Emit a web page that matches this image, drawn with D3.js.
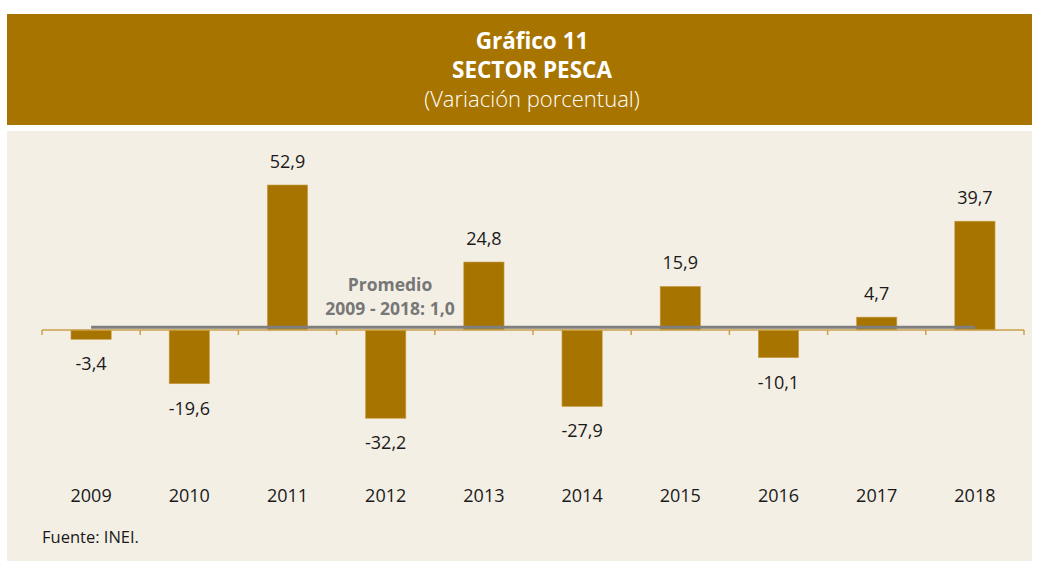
<!DOCTYPE html>
<html>
<head>
    <meta charset="utf-8">
    <title>Sector Pesca</title>
    <script src="https://cdn.jsdelivr.net/npm/d3@7"></script>
    <style>
        body { margin: 0; background: #ffffff; }
        svg { display: block; font-family: "Open Sans", "Noto Sans", sans-serif; }
    </style>
</head>
<body>
    <div id="chart"></div>
    <script>
        // Datos del gráfico
        const years = ["2009", "2010", "2011", "2012", "2013", "2014", "2015", "2016", "2017", "2018"];
        const values = [-3.4, -19.6, 52.9, -32.2, 24.8, -27.9, 15.9, -10.1, 4.7, 39.7];
        const average = 1.0;
        const titleLines = ["Gráfico 11", "SECTOR PESCA", "(Variación porcentual)"];
        const avgLabel = ["Promedio", "2009 - 2018: 1,0"];
        const source = "Fuente: INEI.";

        const W = 1046, H = 561;
        const gold = "#a87400";
        const fmt = v => v.toFixed(1).replace(".", ",");

        const svg = d3.select("#chart").append("svg")
            .attr("width", W)
            .attr("height", H);

        // Encabezado
        svg.append("rect")
            .attr("x", 7).attr("y", 14)
            .attr("width", 1025).attr("height", 111)
            .attr("fill", gold);

        svg.append("rect")
            .attr("x", 7).attr("y", 131)
            .attr("width", 1025).attr("height", H - 131)
            .attr("fill", "#f4efe5");

        svg.selectAll(".title")
            .data(titleLines)
            .enter()
            .append("text")
            .attr("x", 532)
            .attr("y", (d, i) => 49 + i * 29)
            .attr("text-anchor", "middle")
            .attr("fill", "#ffffff")
            .attr("font-size", (d, i) => i < 2 ? "22.5px" : "22px")
            .attr("font-weight", (d, i) => i < 2 ? "bold" : "300")
            .text(d => d);

        // Escalas
        const x = d3.scaleBand()
            .domain(years)
            .range([42, 1024])
            .paddingInner(0.59)
            .paddingOuter(0.295);

        const y = d3.scaleLinear()
            .domain([0, 52.9])
            .range([330, 185]);

        // Barras
        svg.selectAll(".bar")
            .data(values)
            .enter()
            .append("rect")
            .attr("class", "bar")
            .attr("x", (d, i) => x(years[i]))
            .attr("y", d => y(Math.max(0, d)))
            .attr("width", x.bandwidth())
            .attr("height", d => Math.abs(y(d) - y(0)))
            .attr("fill", gold)
            .attr("stroke", "#c9a04a")
            .attr("stroke-width", 0.6);

        // Eje x
        const axis = svg.append("g").attr("stroke", "#c9a04a").attr("stroke-width", 1.5);
        axis.append("line")
            .attr("x1", 42).attr("x2", 1024)
            .attr("y1", y(0)).attr("y2", y(0));
        axis.selectAll(".tick")
            .data(d3.range(years.length + 1))
            .enter()
            .append("line")
            .attr("x1", i => 42 + i * x.step())
            .attr("x2", i => 42 + i * x.step())
            .attr("y1", y(0)).attr("y2", y(0) + 5);

        // Línea promedio
        svg.append("line")
            .attr("x1", x(years[0]) + x.bandwidth() / 2)
            .attr("x2", x(years[years.length - 1]) + x.bandwidth() / 2)
            .attr("y1", y(average)).attr("y2", y(average))
            .attr("stroke", "#7f7f7f")
            .attr("stroke-width", 3);

        svg.selectAll(".avg")
            .data(avgLabel)
            .enter()
            .append("text")
            .attr("x", 390)
            .attr("y", (d, i) => 291 + i * 24)
            .attr("text-anchor", "middle")
            .attr("fill", "#777777")
            .attr("font-size", "17.5px")
            .attr("font-weight", "bold")
            .text(d => d);

        // Etiquetas de valores
        svg.selectAll(".val")
            .data(values)
            .enter()
            .append("text")
            .attr("x", (d, i) => x(years[i]) + x.bandwidth() / 2)
            .attr("y", d => d >= 0 ? y(d) - 17 : y(d) + 31)
            .attr("text-anchor", "middle")
            .attr("fill", "#1a1a1a")
            .attr("font-size", "18px")
            .text(d => fmt(d));

        // Años
        svg.selectAll(".year")
            .data(years)
            .enter()
            .append("text")
            .attr("x", d => x(d) + x.bandwidth() / 2)
            .attr("y", 502)
            .attr("text-anchor", "middle")
            .attr("fill", "#1a1a1a")
            .attr("font-size", "18px")
            .text(d => d);

        svg.append("text")
            .attr("x", 42)
            .attr("y", 543)
            .attr("fill", "#1a1a1a")
            .attr("font-size", "16.5px")
            .text(source);
    </script>
</body>
</html>
